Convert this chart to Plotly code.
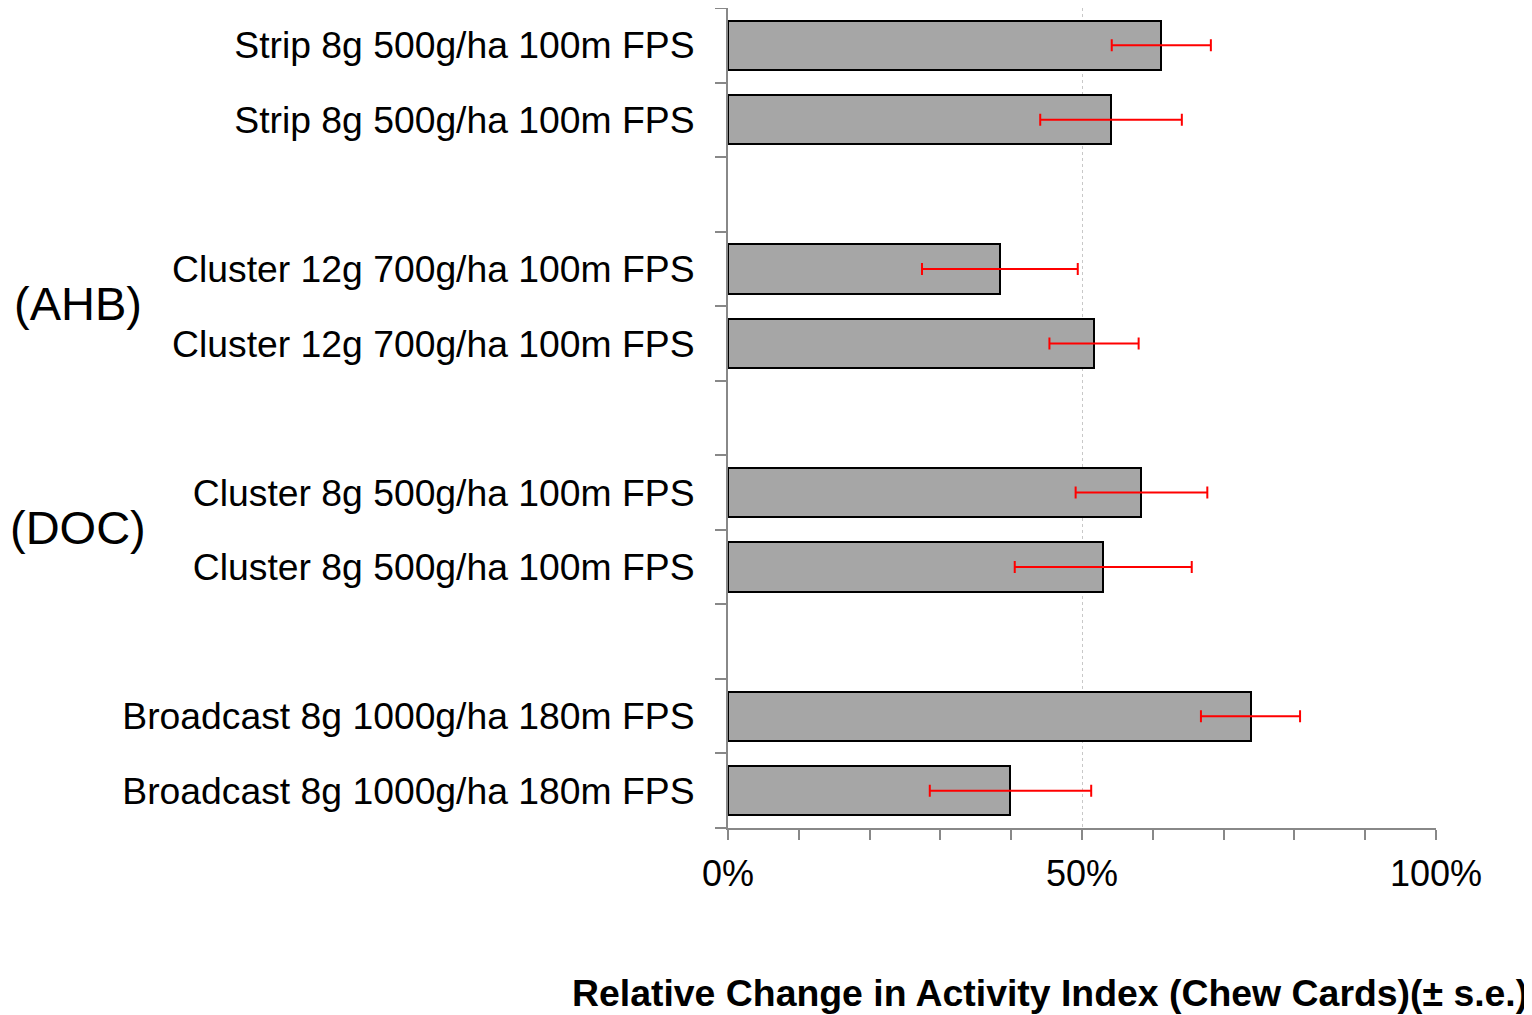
import plotly.graph_objects as go

# ---- data (top to bottom) ----
labels = [
    "Strip 8g 500g/ha 100m FPS",
    "Strip 8g 500g/ha 100m FPS",
    "Cluster 12g 700g/ha 100m FPS",
    "Cluster 12g 700g/ha 100m FPS",
    "Cluster 8g 500g/ha 100m FPS",
    "Cluster 8g 500g/ha 100m FPS",
    "Broadcast 8g 1000g/ha 180m FPS",
    "Broadcast 8g 1000g/ha 180m FPS",
]
values = [61.2, 54.1, 38.4, 51.7, 58.4, 53.0, 73.8, 39.9]
errors = [7.0, 10.0, 11.0, 6.3, 9.3, 12.5, 7.0, 11.4]
group_size = 2
side_labels = ["(AHB)", "(DOC)"]
side_label_groups = [1, 2]          # group index each side label sits beside
x_ticks = [0, 50, 100]
x_ticktext = ["0%", "50%", "100%"]
x_title = "Relative Change in Activity Index (Chew Cards)(± s.e.)"

# slot positions: groups of two bars separated by one empty slot
pos = [i + i // group_size for i in range(len(labels))]
n_slots = pos[-1] + 1
boundaries = [b - 0.5 for b in range(n_slots + 1)]

FONT = "Liberation Sans, Arial, sans-serif"
AXC = "#888888"

fig = go.Figure()
fig.add_trace(go.Bar(
    y=pos, x=values, orientation="h", width=0.66,
    marker=dict(color="#a6a6a6", line=dict(color="black", width=2)),
    error_x=dict(type="data", array=errors, visible=True,
                 color="red", thickness=2, width=6),
    showlegend=False,
))

# page body has an 8px default margin, so the figure is 8px smaller
fig.update_layout(
    width=1524, height=1007,
    margin=dict(l=720, r=96, t=0, b=187),
    paper_bgcolor="white", plot_bgcolor="white",
    font=dict(family=FONT, size=36, color="black"),
    xaxis=dict(
        range=[0, 100], tickvals=x_ticks, ticktext=x_ticktext,
        showgrid=True, gridcolor="#c8c8c8", griddash="dot", gridwidth=1,
        zeroline=False, showline=True, linecolor=AXC, linewidth=2,
        ticks="outside", ticklen=10, tickcolor=AXC, tickwidth=2,
        minor=dict(dtick=10, tick0=0, ticks="outside", ticklen=10,
                   tickcolor=AXC, tickwidth=1.5, showgrid=False),
        ticklabelstandoff=3,
        tickfont=dict(size=36),
    ),
    yaxis=dict(
        range=[n_slots - 0.5, -0.5], tickvals=pos, ticktext=labels,
        showgrid=False, zeroline=False, showline=True,
        linecolor=AXC, linewidth=2, ticks="",
        minor=dict(tickvals=boundaries, ticks="outside", ticklen=11,
                   tickcolor=AXC, tickwidth=2, showgrid=False),
        ticklabelstandoff=24,
        tickfont=dict(size=37.3),
    ),
    bargap=0,
)

for lab, g in zip(side_labels, side_label_groups):
    gpos = pos[g * group_size:(g + 1) * group_size]
    fig.add_annotation(
        text=lab, xref="paper", yref="y", x=-0.918,
        y=sum(gpos) / len(gpos) - 0.03, xanchor="center", yanchor="middle",
        showarrow=False, font=dict(family=FONT, size=47, color="black"),
    )

fig.add_annotation(
    text="<b>" + x_title + "</b>", xref="paper", yref="paper",
    x=0.4548, y=-0.2012, xanchor="center", yanchor="middle",
    showarrow=False, font=dict(family=FONT, size=37.4, color="black"),
)

fig.write_html("out.html")
